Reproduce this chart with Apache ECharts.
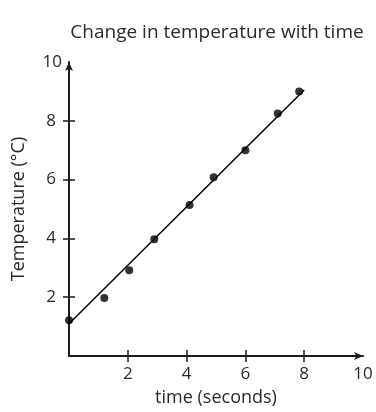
<!DOCTYPE html>
<html><head><meta charset="utf-8">
<script src="https://cdn.jsdelivr.net/npm/echarts@6/dist/echarts.min.js"></script>
<style>html,body{margin:0;padding:0;background:#fff}#c{width:376px;height:412px}</style>
</head><body><div id="c"></div>
<script>
var timeValues = [0, 1.2, 2.05, 2.9, 4.1, 4.92, 6.0, 7.1, 7.83];
var tempValues = [1.22, 1.97, 2.92, 3.97, 5.14, 6.08, 7.0, 8.25, 9.0];
var fitX = [0, 8];
var fitY = [1.1, 9.05];
var tickValues = [2, 4, 6, 8];
var labelValues = [2, 4, 6, 8, 10];
var titleText = 'Change in temperature with time';
var xName = 'time (seconds)';
var yName = 'Temperature (°C)';

var FONT = 'Open Sans';
var TXT = '#2a2a2a';
var AX = '#1a1a1a';
var FS = 17;
var NFS = 18;

var chart = echarts.init(document.getElementById('c'));
var pts = timeValues.map(function (t, i) { return [t, tempValues[i]]; });
var fit = fitX.map(function (x, i) { return [x, fitY[i]]; });

chart.setOption({
  animation: false,
  title: {
    text: titleText, left: 212, top: 18, textAlign: 'center',
    textStyle: { fontFamily: FONT, fontSize: 19, fontWeight: 'normal', color: TXT }
  },
  grid: { left: 69, right: 13, top: 62, bottom: 56, containLabel: false, outerBoundsMode: 'none' },
  xAxis: [{
    type: 'value', min: 0, max: 10, interval: 2, position: 'bottom',
    name: xName, nameLocation: 'middle', nameGap: 33,
    nameTextStyle: { fontFamily: FONT, fontSize: NFS, color: TXT },
    axisLine: { show: true, symbol: ['none', 'arrow'], symbolSize: [6, 9], lineStyle: { color: AX, width: 2 } },
    axisTick: { show: true, inside: false, length: 6, customValues: tickValues, lineStyle: { color: AX, width: 1.5 } },
    axisLabel: { show: true, margin: 10, customValues: labelValues, fontFamily: FONT, fontSize: FS, color: TXT },
    splitLine: { show: false }
  }, {
    type: 'value', min: 0, max: 10, interval: 2, position: 'bottom', offset: 0,
    axisLine: { show: false },
    axisTick: { show: true, inside: true, length: 6, customValues: tickValues, lineStyle: { color: AX, width: 1.5 } },
    axisLabel: { show: false }, splitLine: { show: false }
  }],
  yAxis: [{
    type: 'value', min: 0, max: 10, interval: 2, position: 'left',
    name: yName, nameLocation: 'middle', nameGap: 41,
    nameTextStyle: { fontFamily: FONT, fontSize: NFS, color: TXT },
    axisLine: { show: true, symbol: ['none', 'arrow'], symbolSize: [6, 9], lineStyle: { color: AX, width: 2 } },
    axisTick: { show: true, inside: false, length: 6, customValues: tickValues, lineStyle: { color: AX, width: 1.5 } },
    axisLabel: {
      show: true, margin: 7, customValues: labelValues, fontFamily: FONT, fontSize: FS, color: TXT,
      formatter: function (v) { return v === 10 ? '{t|10}' : '{n|' + v + '}'; },
      rich: {
        t: { fontFamily: FONT, fontSize: FS, color: TXT },
        n: { fontFamily: FONT, fontSize: FS, color: TXT, padding: [0, 6, 0, 0] }
      }
    },
    splitLine: { show: false }
  }, {
    type: 'value', min: 0, max: 10, interval: 2, position: 'left', offset: 0,
    axisLine: { show: false },
    axisTick: { show: true, inside: true, length: 6, customValues: tickValues, lineStyle: { color: AX, width: 1.5 } },
    axisLabel: { show: false }, splitLine: { show: false }
  }],
  series: [{
    type: 'line', data: fit, symbol: 'none', silent: true,
    lineStyle: { color: '#000', width: 1.5 }, z: 2
  }, {
    type: 'scatter', data: pts, symbol: 'circle', symbolSize: 8,
    itemStyle: { color: '#000' }, z: 3
  }]
});
</script>
</body></html>
